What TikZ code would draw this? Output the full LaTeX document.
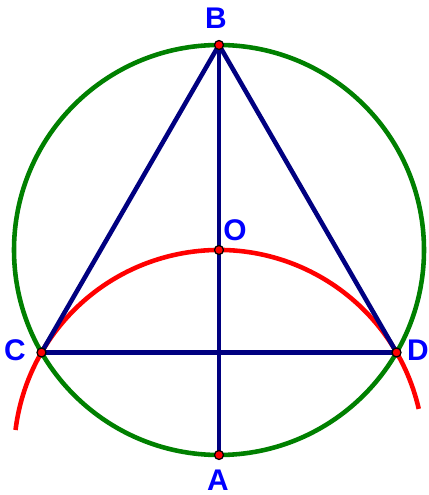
\documentclass[tikz,border=0pt]{standalone}
\usepackage{fontspec}
\setmainfont{Liberation Sans}
\usetikzlibrary{calc}
\definecolor{navyline}{HTML}{000080}
\definecolor{circgreen}{HTML}{008000}
\definecolor{labelblue}{HTML}{0000FF}
\tikzset{
    lbl/.style={text=labelblue, font=\fontsize{17}{20}\selectfont\bfseries, inner sep=0pt},
    seg/.style={navyline, line width=2.6pt},
    pt/.style={fill=red, draw=black, line width=0.7pt}
}
\begin{document}
\begin{tikzpicture}
    \useasboundingbox (0,0) rectangle (8.58,9.90);
    % Points
    \coordinate (O) at (4.38, 4.90);
    \coordinate (B) at (4.38, 9.00);
    \coordinate (A) at (4.38, 0.80);
    \coordinate (C) at ($(A)+(150:4.10)$);
    \coordinate (D) at ($(A)+(30:4.10)$);

    % Circle about O and arc about A
    \draw[circgreen, line width=2.6pt] (O) circle (4.10);
    \draw[red, line width=2.6pt] ($(A)+(13:4.10)$) arc (13:173:4.10);

    % Triangle and the two segments
    \draw[seg] (C) -- (B) -- (D);
    \draw[seg] (C) -- (D);
    \draw[seg] (B) -- (A);

    \foreach \p in {A,B,C,D,O}
        \filldraw[pt] (\p) circle (0.09);

    % Labels
    \node[lbl] (lB) at (4.32, 9.54) {B};
    \node[lbl] (lO) at (4.70, 5.30) {O};
    \node[lbl] (lC) at (0.30, 2.90) {C};
    \node[lbl] (lD) at (8.36, 2.90) {D};
    \node[lbl] (lA) at (4.36, 0.30) {A};
\end{tikzpicture}
\end{document}
